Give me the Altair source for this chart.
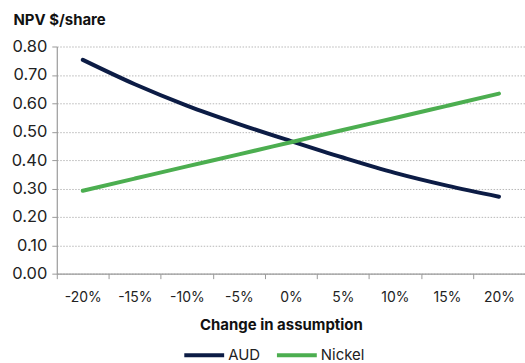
import altair as alt
import pandas as pd

categories = ["-20%", "-15%", "-10%", "-5%", "0%", "5%", "10%", "15%", "20%"]
aud = [0.753, 0.667, 0.592, 0.527, 0.467, 0.409, 0.355, 0.310, 0.271]
nickel = [0.292, 0.335, 0.378, 0.420, 0.463, 0.506, 0.548, 0.591, 0.634]
series = ["AUD", "Nickel"]
colors = ["#0c1c45", "#4cae50"]

rows = []
for c, a, n in zip(categories, aud, nickel):
    rows.append({"cat": c, "series": "AUD", "value": a})
    rows.append({"cat": c, "series": "Nickel", "value": n})
df = pd.DataFrame(rows)

FONT = "Inter"

chart = alt.Chart(df).mark_line(strokeWidth=4, interpolate="monotone", strokeCap="round").encode(
    x=alt.X("cat:N", sort=categories, bandPosition=0.5,
            scale=alt.Scale(type="band", paddingInner=0, paddingOuter=0),
            axis=alt.Axis(title="Change in assumption", labelAngle=0, tickBand="extent",
                          labelPadding=12, titlePadding=13, titleX=225, titleAnchor="middle")),
    y=alt.Y("value:Q", scale=alt.Scale(domain=[0, 0.8], nice=False),
            axis=alt.Axis(title="NPV $/share", format=".2f", values=[0, 0.1, 0.2, 0.3, 0.4, 0.5, 0.6, 0.7, 0.8],
                          titleAngle=0, titleAlign="left", titleBaseline="middle", titleX=-44, titleY=-27,
                          grid=True, gridDash=[1.5, 1.5], gridColor="#b8b8b8", labelPadding=5)),
    color=alt.Color("series:N", scale=alt.Scale(domain=series, range=colors),
                    legend=alt.Legend(title=None, orient="none", legendX=126, legendY=288, direction="horizontal",
                                      symbolType="stroke", symbolSize=1600, symbolStrokeWidth=4,
                                      labelFontSize=15, labelFont=FONT, labelColor="#222222",
                                      columnPadding=8, labelOffset=2)),
).properties(
    width=470, height=228,
    autosize=alt.AutoSizeParams(type="none"),
    padding={"left": 57, "top": 46, "right": 0, "bottom": 89},
).configure_view(stroke=None).configure_axis(
    domainColor="#9a9a9a", tickColor="#9a9a9a", tickSize=5, domainWidth=1.2,
    labelFont=FONT, labelFontSize=14, labelColor="#222222",
    titleFont=FONT, titleFontSize=15, titleFontWeight="bold", titleColor="#111111",
).configure_axisY(labelFontSize=16.5)

chart.save("out.html", embed_options={"renderer": "svg", "actions": False})
